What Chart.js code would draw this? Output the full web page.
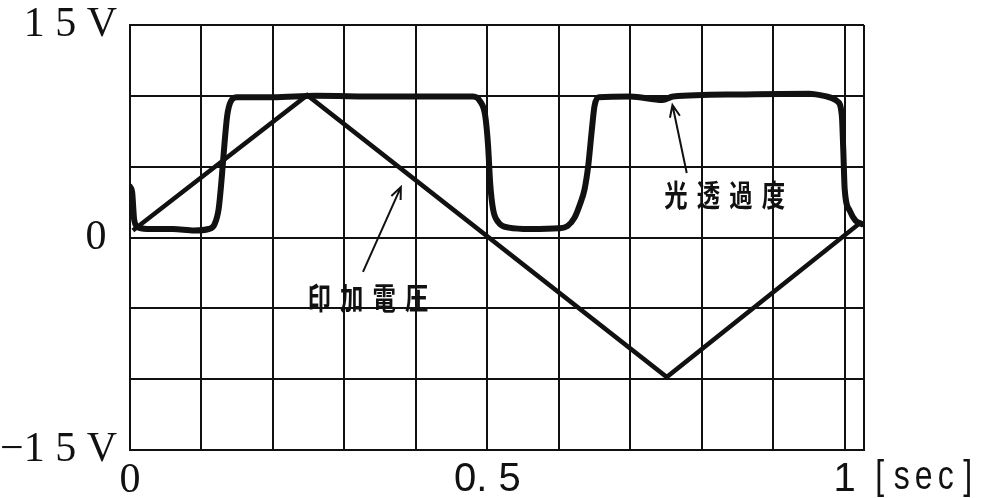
<!DOCTYPE html>
<html>
<head>
<meta charset="utf-8">
<script src="https://cdn.jsdelivr.net/npm/chart.js@4"></script>
<style>
  body { margin: 0; background: #fff; }
  canvas { display: block; }
</style>
</head>
<body>
<canvas id="wave" width="984" height="498"></canvas>
<script>
// 光透過度 trace (time in sec, level in V)
const transTime = [0, 0.003, 0.006, 0.012, 0.03, 0.06, 0.09, 0.11, 0.118, 0.124, 0.128, 0.132, 0.136, 0.141, 0.15,
  0.2, 0.26, 0.35, 0.44, 0.48, 0.49, 0.497, 0.501, 0.504, 0.508, 0.515, 0.53, 0.56, 0.6, 0.612, 0.622, 0.63, 0.636,
  0.641, 0.646, 0.65, 0.656, 0.7, 0.745, 0.76, 0.85, 0.95, 0.975, 0.99, 0.996, 0.998, 1.0, 1.007, 1.015, 1.024];
const transValue = [3.6, 3.2, 1.2, 0.7, 0.6, 0.6, 0.5, 0.6, 0.9, 2.0, 4.0, 6.5, 8.6, 9.6, 9.9,
  9.9, 10.0, 9.95, 9.95, 9.95, 9.6, 8.6, 6.5, 3.8, 2.0, 1.1, 0.7, 0.6, 0.65, 0.8, 1.4, 2.4, 3.4,
  5.0, 7.5, 9.3, 9.9, 9.95, 9.7, 9.95, 10.1, 10.15, 9.95, 9.6, 8.6, 6.2, 3.4, 1.9, 1.2, 0.95];

// 印加電圧 triangle
const voltTime = [0.004, 0.248, 0.751, 1.021];
const voltValue = [0.5, 10.05, -9.85, 1.0];

// axis ticks and labels
const xEnd = 1.027;
const xTickValues = [0, 0.1, 0.2, 0.3, 0.4, 0.5, 0.6, 0.7, 0.8, 0.9, 1.0, xEnd];
const xLabelValues = [0, 0.5, 1];
const xLabelTexts = ['0', '0. 5', '1'];
const yLabelValues = [15, 0, -15];
const yLabelTexts = ['1 5 V', '0 ', '\u22121 5 V'];
const xUnit = '[sec]';

// callout texts, placed in data units
const notes = [
  { text: '印加電圧', x: 0.333, y: -4.27, from: [0.326, -2.43], to: [0.379, 3.56] },
  { text: '光透過度', x: 0.832, y: 3.0, from: [0.779, 4.55], to: [0.759, 9.35] }
];

function findLabel(values, texts, v) {
  for (let i = 0; i < values.length; i++) {
    if (Math.abs(values[i] - v) < 1e-6) return texts[i];
  }
  return '';
}

function drawArrow(ctx, x1, y1, x2, y2) {
  const ang = Math.atan2(y2 - y1, x2 - x1);
  const len = 13;
  ctx.beginPath();
  ctx.moveTo(x1, y1);
  ctx.lineTo(x2, y2);
  ctx.moveTo(x2 - len * Math.cos(ang - 0.4), y2 - len * Math.sin(ang - 0.4));
  ctx.lineTo(x2, y2);
  ctx.lineTo(x2 - len * Math.cos(ang + 0.4), y2 - len * Math.sin(ang + 0.4));
  ctx.stroke();
}

const notePlugin = {
  id: 'notes',
  afterDatasetsDraw(chart) {
    const ctx = chart.ctx;
    const sx = chart.scales.x, sy = chart.scales.y;
    ctx.save();
    ctx.strokeStyle = '#111';
    ctx.fillStyle = '#111';
    ctx.lineWidth = 2;
    ctx.textAlign = 'center';
    ctx.textBaseline = 'middle';
    ctx.font = 'bold 30px "Noto Sans CJK JP"';

    notes.forEach(n => {
      drawArrow(ctx, sx.getPixelForValue(n.from[0]), sy.getPixelForValue(n.from[1]),
        sx.getPixelForValue(n.to[0]), sy.getPixelForValue(n.to[1]));
      const cx = sx.getPixelForValue(n.x), cy = sy.getPixelForValue(n.y);
      const chars = [...n.text];
      chars.forEach((ch, i) => {
        ctx.save();
        ctx.translate(cx + (i - (chars.length - 1) / 2) * 32.5, cy);
        ctx.scale(0.78, 1);
        ctx.fillText(ch, 0, 0);
        ctx.restore();
      });
    });

    // unit after the last x label
    ctx.font = '40px "Liberation Sans"';
    const ux = sx.getPixelForValue(1) + 35;
    [...xUnit].forEach((ch, i) => {
      ctx.save();
      ctx.translate(ux + i * 22, 478);
      ctx.scale(0.8, 1);
      ctx.fillText(ch, 0, 0);
      ctx.restore();
    });
    ctx.restore();
  }
};

const ctx = document.getElementById('wave').getContext('2d');
new Chart(ctx, {
  type: 'line',
  data: {
    datasets: [
      {
        label: '光透過度',
        data: transTime.map((t, i) => ({ x: t, y: transValue[i] })),
        borderColor: '#111',
        borderWidth: 6,
        pointRadius: 0,
        cubicInterpolationMode: 'monotone',
        borderJoinStyle: 'round',
        borderCapStyle: 'round'
      },
      {
        label: '印加電圧',
        data: voltTime.map((t, i) => ({ x: t, y: voltValue[i] })),
        borderColor: '#111',
        borderWidth: 4.5,
        pointRadius: 0,
        tension: 0,
        borderJoinStyle: 'miter'
      }
    ]
  },
  options: {
    responsive: false,
    animation: false,
    layout: { padding: { top: 25, right: 120, left: 0, bottom: 0 } },
    plugins: { legend: { display: false }, tooltip: { enabled: false } },
    scales: {
      x: {
        type: 'linear',
        min: 0,
        max: xEnd,
        afterFit: s => { s.height = 48; s.paddingLeft = 0; s.paddingRight = 0; },
        afterBuildTicks: s => { s.ticks = xTickValues.map(v => ({ value: v })); },
        grid: { color: '#111', lineWidth: 2, drawTicks: false },
        border: { color: '#111', width: 2 },
        ticks: {
          autoSkip: false,
          maxRotation: 0,
          padding: 6,
          color: '#111',
          font: c => (c.tick && c.tick.value === 0)
            ? { family: '"Liberation Serif"', size: 42 }
            : { family: '"Liberation Sans"', size: 40 },
          callback: v => findLabel(xLabelValues, xLabelTexts, v)
        }
      },
      y: {
        min: -15,
        max: 15,
        afterFit: s => { s.width = 130; s.paddingTop = 0; s.paddingBottom = 0; },
        grid: { color: '#111', lineWidth: 2, drawTicks: false },
        border: { color: '#111', width: 2 },
        ticks: {
          stepSize: 5,
          padding: 13,
          color: '#111',
          font: { family: '"Liberation Serif"', size: 42 },
          callback: v => findLabel(yLabelValues, yLabelTexts, v)
        }
      }
    }
  },
  plugins: [notePlugin]
});
</script>
</body>
</html>
